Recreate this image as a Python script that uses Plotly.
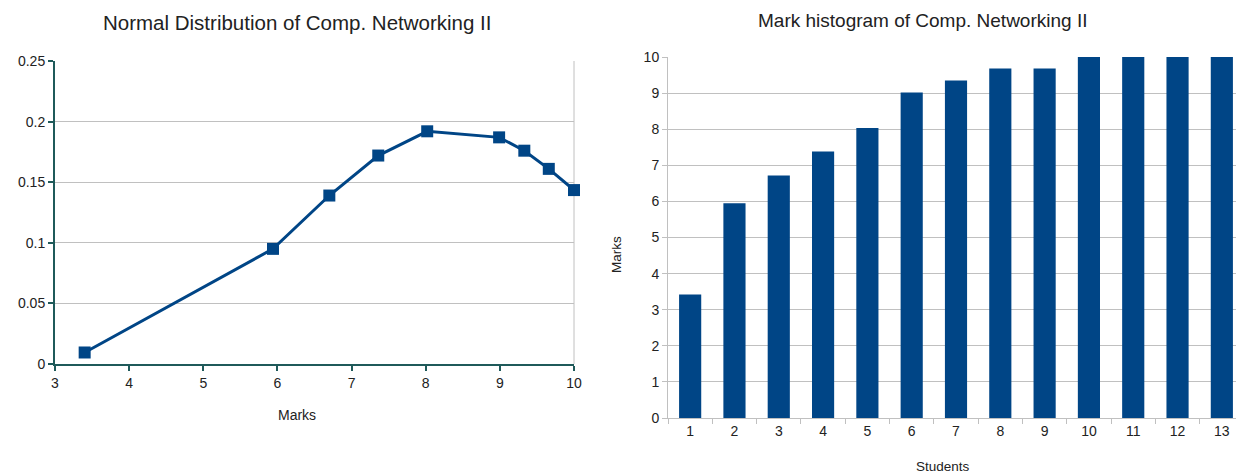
import plotly.graph_objects as go

# Data
dist_marks = [3.40, 5.94, 6.70, 7.36, 8.02, 8.99, 9.33, 9.66, 10.0]
dist_density = [0.0095, 0.095, 0.139, 0.172, 0.192, 0.187, 0.176, 0.161, 0.1435]
students = ["1", "2", "3", "4", "5", "6", "7", "8", "9", "10", "11", "12", "13"]
student_marks = [3.42, 5.95, 6.72, 7.38, 8.03, 9.02, 9.35, 9.68, 9.68, 10, 10, 10, 10]

# the page body has an 8px margin, so the figure is placed at (8, 8)
OFF = 8
W, H = 1244 - OFF, 475 - OFF
FONT = "Liberation Sans, Arial, sans-serif"
BLUE = "#004586"
TEAL = "#1f5a5a"
GRID = "#c0c0c0"
TXT = "#222222"

fig = go.Figure()
fig.add_trace(go.Scatter(
    x=dist_marks, y=dist_density, mode="lines+markers",
    line=dict(color=BLUE, width=3),
    marker=dict(symbol="square", size=12, color=BLUE),
    xaxis="x", yaxis="y", showlegend=False, cliponaxis=False))
fig.add_trace(go.Bar(
    x=students, y=student_marks, marker=dict(color=BLUE, line=dict(width=0)),
    xaxis="x2", yaxis="y2", showlegend=False))

def px(v):
    return (v - OFF) / W

def py(v):
    return 1 - (v - OFF) / H

fig.update_layout(
    width=W, height=H,
    margin=dict(l=0, r=0, t=0, b=0, autoexpand=False),
    paper_bgcolor="white", plot_bgcolor="white",
    font=dict(family=FONT, size=14, color=TXT),
    bargap=0.5,
    xaxis=dict(domain=[px(55), px(574)], range=[3, 10], dtick=1, automargin=False,
               showgrid=False, zeroline=False,
               showline=True, linecolor=TEAL, linewidth=2,
               ticks="outside", tickcolor=TEAL, tickwidth=2, ticklen=5,
               tickfont=dict(size=14, color=TXT), anchor="y"),
    yaxis=dict(domain=[py(364), py(61)], range=[0, 0.25], dtick=0.05, automargin=False,
               showgrid=True, gridcolor=GRID, gridwidth=1, zeroline=False,
               showline=True, linecolor=TEAL, linewidth=2,
               ticks="outside", tickcolor=TEAL, tickwidth=2, ticklen=5,
               tickformat="~g",
               tickfont=dict(size=14, color=TXT), anchor="x"),
    xaxis2=dict(domain=[px(668), 1.0], type="category", automargin=False,
                showgrid=False, zeroline=False,
                showline=True, linecolor=GRID, linewidth=1,
                ticks="outside", tickson="boundaries", tickcolor=GRID, ticklen=5,
                tickfont=dict(size=14, color=TXT), anchor="y2"),
    yaxis2=dict(domain=[py(418), py(57)], range=[0, 10], dtick=1, automargin=False,
                showgrid=True, gridcolor=GRID, gridwidth=1, zeroline=False,
                showline=True, linecolor=GRID, linewidth=1,
                ticks="outside", tickcolor=GRID, ticklen=5,
                tickfont=dict(size=14, color=TXT), anchor="x2"),
    shapes=[
        dict(type="line", xref="x domain", yref="y domain", x0=1, x1=1, y0=0, y1=1,
             line=dict(color=GRID, width=1), layer="below"),
    ],
    annotations=[
        dict(text="Normal Distribution of Comp. Networking II", x=px(297), y=py(22),
             xref="paper", yref="paper", showarrow=False, xanchor="center", yanchor="middle",
             font=dict(size=20.5, color=TXT)),
        dict(text="Mark histogram of Comp. Networking II", x=px(922), y=py(21),
             xref="paper", yref="paper", showarrow=False, xanchor="center", yanchor="middle",
             font=dict(size=19, color=TXT)),
        dict(text="Marks", x=px(297), y=py(415), xref="paper", yref="paper",
             showarrow=False, xanchor="center", yanchor="middle", font=dict(size=14, color=TXT)),
        dict(text="Students", x=px(943), y=py(466), xref="paper", yref="paper",
             showarrow=False, xanchor="center", yanchor="middle", font=dict(size=13.5, color=TXT)),
        dict(text="Marks", x=px(616), y=py(255), xref="paper", yref="paper", textangle=-90,
             showarrow=False, xanchor="center", yanchor="middle", font=dict(size=13.5, color=TXT)),
    ],
)

fig.write_html("out.html")
